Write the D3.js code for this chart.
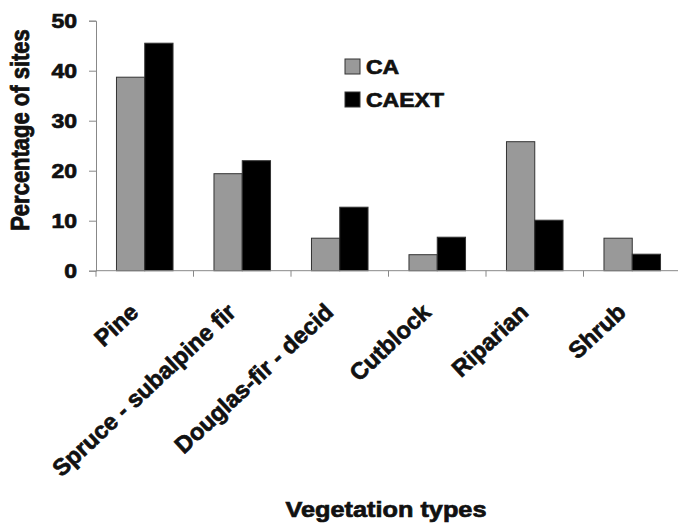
<!DOCTYPE html>
<html>
<head>
<meta charset="utf-8">
<script src="https://cdn.jsdelivr.net/npm/d3@7"></script>
<style>
  body { margin: 0; background: #fff; }
  svg text { font-family: Arial, "Liberation Sans", sans-serif; font-weight: bold; fill: #111; stroke: #111; stroke-width: 0.7px; }
</style>
</head>
<body>
<svg id="chart" width="678" height="523"></svg>
<script>
const categories = ['Pine', 'Spruce - subalpine fir', 'Douglas-fir - decid', 'Cutblock', 'Riparian', 'Shrub']
const seriesNames = ['CA', 'CAEXT']
const caValues = [38.7, 19.4, 6.5, 3.2, 25.8, 6.5]
const caextValues = [45.5, 22.0, 12.7, 6.7, 10.1, 3.3]
const yTicks = [0, 10, 20, 30, 40, 50]

const colors = { CA: '#999999', CAEXT: '#000000' }
const stretch = 1.15 // the source typeface is a bit wide

const svg = d3.select('#chart')
const frame = { left: 96, right: 681, top: 20.7, bottom: 270.7 }

const x0 = d3.scaleBand().domain(categories).range([frame.left, frame.right])
  .paddingInner(0.42).paddingOuter(0.21)
const x1 = d3.scaleBand().domain(seriesNames).range([0, x0.bandwidth()])
const y = d3.scaleLinear().domain([0, 50]).range([frame.bottom, frame.top])

const rows = categories.map((c, i) => ({ cat: c, CA: caValues[i], CAEXT: caextValues[i] }))

// bars
const groups = svg.append('g').selectAll('g').data(rows).join('g')
  .attr('transform', d => 'translate(' + x0(d.cat) + ',0)')
groups.selectAll('rect').data(d => seriesNames.map(s => ({ s, v: d[s] }))).join('rect')
  .attr('x', d => x1(d.s))
  .attr('width', x1.bandwidth())
  .attr('y', d => y(d.v))
  .attr('height', d => y(0) - y(d.v))
  .attr('fill', d => colors[d.s])
  .attr('stroke', '#333').attr('stroke-width', 1)

// y axis
const yAxis = svg.append('g').attr('transform', 'translate(' + frame.left + ',0)')
  .call(d3.axisLeft(y).tickValues(yTicks).tickSize(7).tickFormat(d3.format('d')))
yAxis.selectAll('path, line').attr('stroke', '#888')
yAxis.selectAll('text').remove()
yAxis.selectAll('.tick').append('text')
  .attr('transform', 'translate(-19,7) scale(' + stretch + ',1)')
  .attr('text-anchor', 'end').style('font-size', '20px')
  .text(d => d)

// x axis: line plus ticks between categories
const xAxis = svg.append('g')
xAxis.append('line').attr('x1', frame.left).attr('x2', frame.right)
  .attr('y1', y(0)).attr('y2', y(0)).attr('stroke', '#888')
const half = x0.step() * x0.paddingInner() / 2
const bounds = categories.map(c => x0(c) - half)
bounds.push(x0(categories[categories.length - 1]) + x0.bandwidth() + half)
xAxis.selectAll('.xt').data(bounds).join('line')
  .attr('x1', d => d).attr('x2', d => d)
  .attr('y1', y(0)).attr('y2', y(0) + 6).attr('stroke', '#888')
xAxis.selectAll('.xl').data(categories).join('text')
  .attr('transform', d => 'translate(' + (x0(d) + x0.bandwidth() / 2 - 5) + ',314) rotate(-43)')
  .attr('text-anchor', 'end').style('font-size', '23.5px')
  .text(d => d)

// axis titles
svg.append('text')
  .attr('transform', 'translate(29,130) scale(' + stretch + ',1) rotate(-90)')
  .attr('text-anchor', 'middle').style('font-size', '22px')
  .text('Percentage of sites')
svg.append('text')
  .attr('transform', 'translate(386,517) scale(' + stretch + ',1)')
  .attr('text-anchor', 'middle').style('font-size', '22px')
  .text('Vegetation types')

// legend
const legend = svg.append('g').attr('transform', 'translate(345,59)')
const items = legend.selectAll('g').data(seriesNames).join('g')
  .attr('transform', (d, i) => 'translate(0,' + i * 33 + ')')
items.append('rect').attr('width', 15).attr('height', 15)
  .attr('fill', d => colors[d]).attr('stroke', '#333')
items.append('text')
  .attr('transform', 'translate(21,15) scale(' + stretch + ',1)')
  .style('font-size', '20px')
  .text(d => d)
</script>
</body>
</html>
